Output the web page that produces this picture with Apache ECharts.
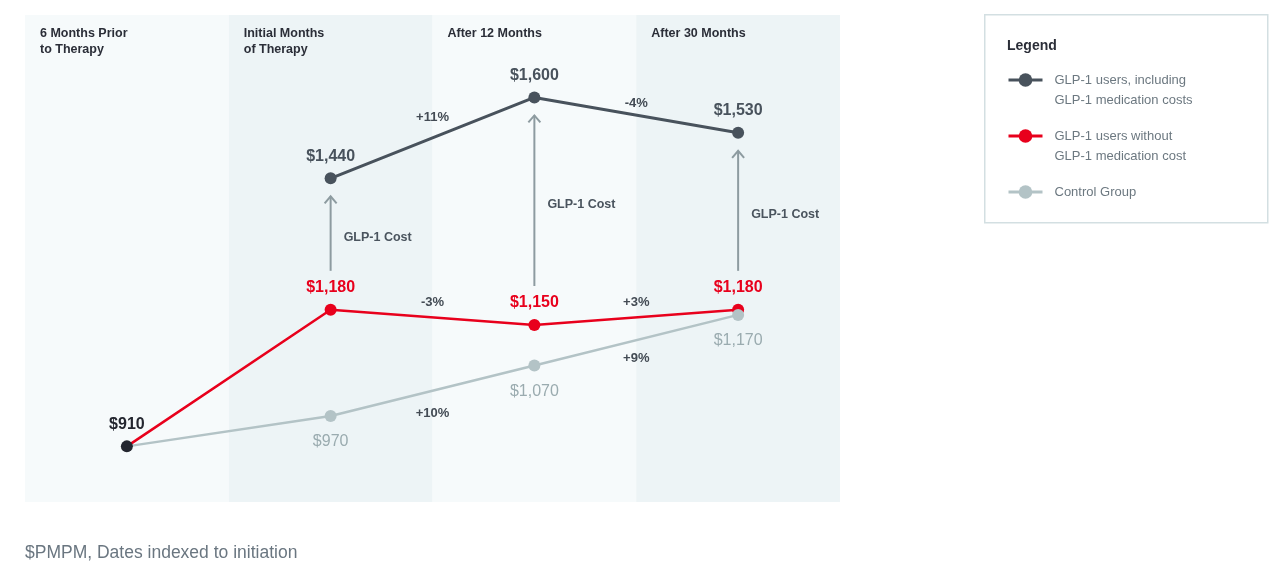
<!DOCTYPE html>
<html>
<head>
<meta charset="utf-8">
<title></title>
<script src="https://cdn.jsdelivr.net/npm/echarts@6/dist/echarts.min.js"></script>
<style>
html,body{height:100%;width:100%;margin:0px;background:#fff;}
#chartDiv{width:1280px;height:580px;}
</style>
</head>
<body>
<div id="chartDiv"></div>
<script>
// chart data
var periods = ['6 Months Prior\nto Therapy', 'Initial Months\nof Therapy', 'After 12 Months', 'After 30 Months'];
var seriesNames = ['GLP-1 users, including\nGLP-1 medication costs', 'GLP-1 users without\nGLP-1 medication cost', 'Control Group'];
var withMedCost = ['-', 1440, 1600, 1530];
var withoutMedCost = [910, 1180, 1150, 1180];
var controlGroup = [910, 970, 1070, 1170];
// change vs previous period
var withMedChange = ['', '', '+11%', '-4%'];
var withoutMedChange = ['', '', '-3%', '+3%'];
var controlChange = ['', '', '+10%', '+9%'];
var costLabel = 'GLP-1 Cost';
var footnote = '$PMPM, Dates indexed to initiation';

var FONT = '"Liberation Sans", Arial, sans-serif';
var DARK = '#48525c';
var RED = '#e8001c';
var GREY = '#b3c3c6';

function money(v){
  return '$' + Number(v).toLocaleString('en-US');
}

// percentage labels placed at segment midpoints
function changeSeries(values, changes, offsets){
  var data = [], texts = [], dys = [];
  for (var i = 1; i < values.length; i++) {
    if (changes[i]) {
      data.push([i - 1, values[i - 1], i, values[i]]);
      texts.push(changes[i]);
      dys.push(offsets[data.length - 1]);
    }
  }
  return {
    type: 'custom', silent: true, z: 6, data: data,
    encode: {x: [0, 2], y: [1, 3]},
    renderItem: function(params, api){
      var a = api.coord([api.value(0), api.value(1)]);
      var b = api.coord([api.value(2), api.value(3)]);
      return {
        type: 'text',
        x: (a[0] + b[0]) / 2,
        y: (a[1] + b[1]) / 2 + dys[params.dataIndex],
        style: {
          text: texts[params.dataIndex], fill: '#434b54',
          font: 'bold 13px ' + FONT, align: 'center', verticalAlign: 'middle'
        }
      };
    }
  };
}

var arrowData = [];
for (var i = 0; i < periods.length; i++) {
  if (withMedCost[i] !== '-') arrowData.push([i, withoutMedCost[i], withMedCost[i]]);
}

var option = {
  animation: false,
  title: [
    {text: 'Legend', left: 1007, top: 39, padding: 0,
     textStyle: {fontFamily: FONT, fontSize: 14, fontWeight: 'bold', color: '#2b2e38'}},
    {text: footnote, left: 25, top: 544, padding: 0,
     textStyle: {fontFamily: FONT, fontSize: 17.5, fontWeight: 'normal', color: '#6a7680'}}
  ],
  graphic: [
    {type: 'rect', left: 984, top: 14, z: -10,
     shape: {width: 283, height: 208},
     style: {fill: '#fff', stroke: '#d3dfe2', lineWidth: 1.5}}
  ],
  legend: {
    orient: 'vertical', left: 1007, top: 50, padding: 0,
    itemWidth: 34, itemHeight: 17, itemGap: -4,
    data: seriesNames,
    lineStyle: {width: 3},
    // blank first line keeps the icon level with the first text line
    formatter: function(name){
      return '\n' + name + (name.indexOf('\n') < 0 ? '\n' : '');
    },
    textStyle: {fontFamily: FONT, fontSize: 13, lineHeight: 20, color: '#6c7880', padding: [0, 0, 0, 7]}
  },
  grid: {left: 25, right: 440, top: 15, bottom: 78},
  xAxis: [
    {
      type: 'category', data: periods, boundaryGap: true,
      axisLine: {show: false}, axisTick: {show: false}, axisLabel: {show: false},
      splitLine: {show: false},
      splitArea: {show: true, interval: 0, areaStyle: {color: ['#f6fafb', '#edf4f6']}}
    },
    {
      type: 'value', position: 'top', min: 0, max: 4, interval: 1,
      axisLine: {show: false}, axisTick: {show: false}, splitLine: {show: false},
      axisLabel: {
        inside: true, align: 'left', verticalAlign: 'top', margin: 10,
        padding: [0, 0, 0, 15], lineHeight: 16.5,
        fontFamily: FONT, fontSize: 12.5, fontWeight: 'bold', color: '#2b2e38',
        formatter: function(v){ return periods[v] || ''; }
      }
    }
  ],
  yAxis: {type: 'value', min: 800, max: 1763, show: false},
  series: [
    {
      name: seriesNames[0], type: 'line', data: withMedCost, z: 4,
      symbol: 'circle', symbolSize: 12,
      lineStyle: {color: DARK, width: 3}, itemStyle: {color: DARK},
      label: {show: true, position: 'top', distance: 8, formatter: function(p){ return money(p.value); },
              fontFamily: FONT, fontSize: 16, fontWeight: 'bold', color: DARK}
    },
    {
      name: seriesNames[1], type: 'line', z: 3,
      data: withoutMedCost.map(function(v, i){
        return i === 0 ? {value: v, itemStyle: {color: '#23262f'}, label: {color: '#23262f'}} : v;
      }),
      symbol: 'circle', symbolSize: 12,
      lineStyle: {color: RED, width: 2.5}, itemStyle: {color: RED},
      label: {show: true, position: 'top', distance: 8, formatter: function(p){ return money(p.value); },
              fontFamily: FONT, fontSize: 16, fontWeight: 'bold', color: RED}
    },
    {
      name: seriesNames[2], type: 'line', z: 3,
      data: controlGroup.map(function(v, i){
        return i === 0 ? {value: v, symbol: 'none', label: {show: false}} : v;
      }),
      symbol: 'circle', symbolSize: 12,
      lineStyle: {color: GREY, width: 2.5}, itemStyle: {color: GREY},
      label: {show: true, position: 'bottom', distance: 12, formatter: function(p){ return money(p.value); },
              fontFamily: FONT, fontSize: 16, color: '#9aabaf'}
    },
    {
      // GLP-1 cost arrows from the "without" point up to the "including" point
      type: 'custom', silent: true, z: 2, data: arrowData,
      encode: {x: 0, y: [1, 2]},
      renderItem: function(params, api){
        var lo = api.coord([api.value(0), api.value(1)]);
        var hi = api.coord([api.value(0), api.value(2)]);
        var x = lo[0], y0 = lo[1] - 39, y1 = hi[1] + 18;
        var stroke = '#8d9ba0';
        return {
          type: 'group',
          children: [
            {type: 'line', shape: {x1: x, y1: y0, x2: x, y2: y1}, style: {stroke: stroke, lineWidth: 2}},
            {type: 'polyline', shape: {points: [[x - 6, y1 + 7], [x, y1], [x + 6, y1 + 7]]},
             style: {stroke: stroke, lineWidth: 2, fill: null}},
            {type: 'text', x: x + 13, y: (y0 + y1) / 2 + 4,
             style: {text: costLabel, fill: '#4a545e', font: 'bold 12.5px ' + FONT, verticalAlign: 'middle'}}
          ]
        };
      }
    },
    changeSeries(withMedCost, withMedChange, [-20, -12]),
    changeSeries(withoutMedCost, withoutMedChange, [-15, -15]),
    changeSeries(controlGroup, controlChange, [23, 18])
  ]
};

var chart = echarts.init(document.getElementById('chartDiv'));
chart.setOption(option);
</script>
</body>
</html>
